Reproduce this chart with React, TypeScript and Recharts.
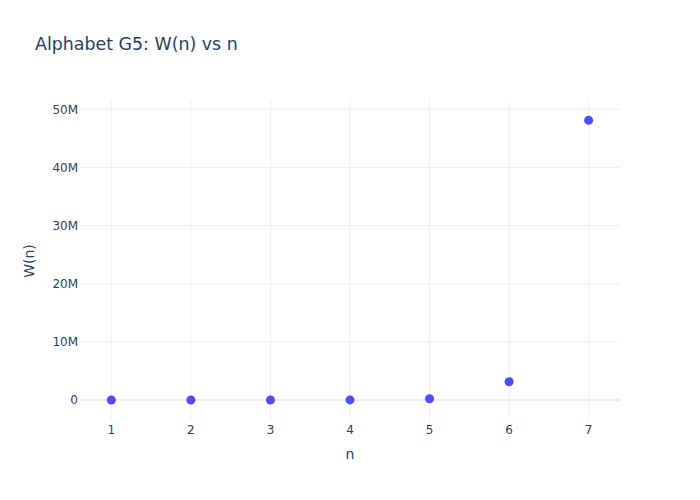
import React from "react";
import { ScatterChart, Scatter, XAxis, YAxis, ZAxis, ReferenceLine } from "recharts";

const nValues = [1, 2, 3, 4, 5, 6, 7];
const wValues = [5, 70, 1000, 14000, 205000, 3150000, 48100000];
const xTicks = [1, 2, 3, 4, 5, 6, 7];
const yTicks = [0, 10000000, 20000000, 30000000, 40000000, 50000000];
const titleText = "Alphabet G5: W(n) vs n";
const xTitle = "n";
const yTitle = "W(n)";

const data = nValues.map((n, i) => ({ n, w: wValues[i] }));

const FONT = '"DejaVu Sans", Verdana, sans-serif';
const TEXT = "#2a3f5f";
const GRID = "#ebf0f8";

const fmtY = (v: number) => (v === 0 ? "0" : `${Math.round(v / 1e6)}M`);

export default function App() {
  return (
    <div style={{ position: "absolute", left: 0, top: 0, width: 700, height: 500, background: "#fff" }}>
      <svg width={700} height={60} style={{ position: "absolute", left: 0, top: 0 }}>
        <text x={35} y={50} fontFamily={FONT} fontSize={17.4} fill={TEXT}>
          {titleText}
        </text>
      </svg>
      <ScatterChart
        width={700}
        height={500}
        margin={{ top: 100, right: 80, bottom: 0, left: 0 }}
        style={{ fontFamily: FONT }}
      >
        <XAxis
          type="number"
          dataKey="n"
          domain={[0.606, 7.394]}
          allowDataOverflow
          ticks={xTicks}
          height={80}
          axisLine={false}
          tickLine={false}
          tickSize={0}
          tickMargin={5}
          tick={{ fill: TEXT, fontSize: 12, fontFamily: FONT }}
          label={{
            content: () => (
              <text x={350} y={459} textAnchor="middle" fontFamily={FONT} fontSize={14} fill={TEXT}>
                {xTitle}
              </text>
            ),
          }}
        />
        <YAxis
          type="number"
          dataKey="w"
          domain={[-3440000, 51600000]}
          allowDataOverflow
          ticks={yTicks}
          tickFormatter={fmtY}
          width={80}
          axisLine={false}
          tickLine={false}
          tickSize={0}
          tickMargin={2}
          tick={{ fill: TEXT, fontSize: 12, fontFamily: FONT }}
          label={{
            content: () => (
              <text
                x={34}
                y={261}
                textAnchor="middle"
                transform="rotate(-90 34 261)"
                fontFamily={FONT}
                fontSize={14}
                fill={TEXT}
              >
                {yTitle}
              </text>
            ),
          }}
        />
        <ZAxis range={[45, 45]} />
        {xTicks.map((t) => (
          <ReferenceLine key={`x${t}`} x={t} stroke={GRID} strokeWidth={1} />
        ))}
        {yTicks
          .filter((t) => t !== 0)
          .map((t) => (
            <ReferenceLine key={`y${t}`} y={t} stroke={GRID} strokeWidth={1} />
          ))}
        <ReferenceLine y={0} stroke={GRID} strokeWidth={2} />
        <Scatter data={data} fill="#4d4dff" isAnimationActive={false} shape="circle" />
      </ScatterChart>
    </div>
  );
}
